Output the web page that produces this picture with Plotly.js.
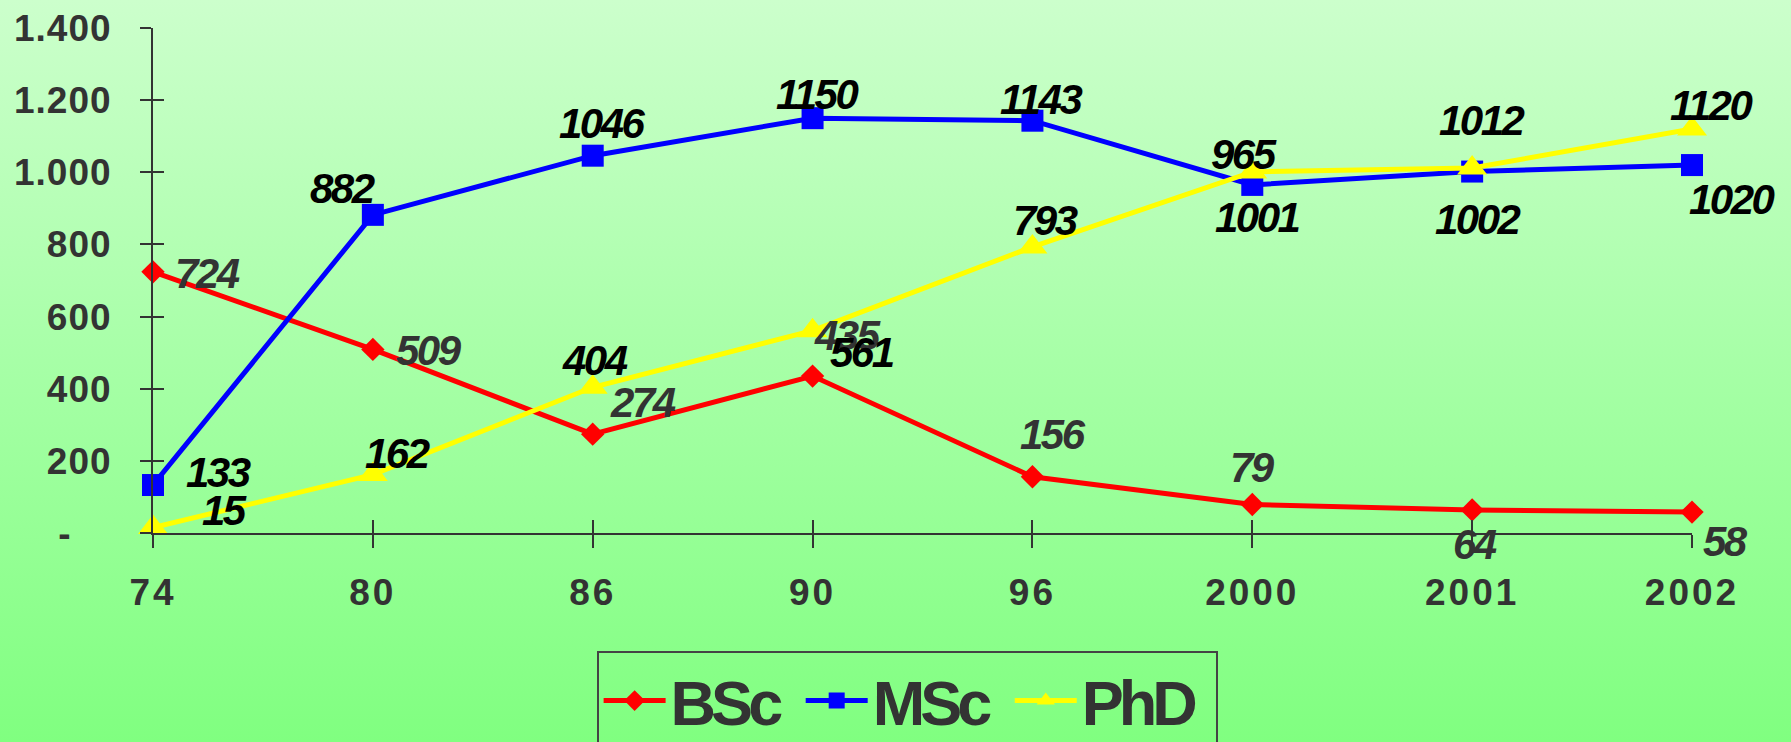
<!DOCTYPE html>
<html>
<head>
<meta charset="utf-8">
<script src="https://cdn.plot.ly/plotly-3.0.1.min.js"></script>
<style>
  html, body { margin: 0; padding: 0; }
  #chart {
    width: 1791px; height: 742px;
    background: linear-gradient(to bottom, #ccffcc 0%, #80ff80 100%);
  }
</style>
</head>
<body>
<div id="chart"></div>
<script>
// ---- data ----
const years = ['74', '80', '86', '90', '96', '2000', '2001', '2002'];
const bsc = [724, 509, 274, 435, 156, 79, 64, 58];
const msc = [133, 882, 1046, 1150, 1143, 965, 1002, 1020];
const phd = [15, 162, 404, 561, 793, 1001, 1012, 1120];
const seriesNames = ['BSc', 'MSc', 'PhD'];
const yTickVals = [0, 200, 400, 600, 800, 1000, 1200, 1400];
const yTickText = ['-', '200', '400', '600', '800', '1.000', '1.200', '1.400'];

// ---- label placement (pixel offsets from each point: [dx, dy], dy downward) ----
const bscOffsets = [[54, 2], [56, 1], [50, -32], [35, -41], [21, -42], [0, -37], [3, 35], [33, 29]];
const mscOffsets = [[65, -13], [-30, -26], [10, -32], [4, -24], [9, -21], [-8, -30], [6, 48], [40, 34]];
const phdOffsets = [[71, -17], [25, -21], [2, -27], [49, 22], [13, -26], [5, 46], [10, -47], [19, -24]];

const sans = '"Liberation Sans", Arial, sans-serif';
const spaced = (t, px) => '<span style="letter-spacing:' + px + 'px">' + t + '</span>';

function series(name, values, color, symbol, size) {
  return {
    type: 'scatter', mode: 'lines+markers',
    name: spaced(name, -5) + '\u00a0',
    x: years, y: values,
    line: { color: color, width: 5 },
    marker: { color: color, symbol: symbol, size: size },
    cliponaxis: false
  };
}

const traces = [
  series(seriesNames[0], bsc, '#ff0000', 'diamond', 18),
  series(seriesNames[1], msc, '#0000ff', 'square', 22),
  series(seriesNames[2], phd, '#ffff00', 'triangle-up', 26),
  { type: 'scatter', mode: 'markers', x: years, y: years.map(() => null),
    xaxis: 'x2', yaxis: 'y2', showlegend: false, hoverinfo: 'skip' }
];

function labels(values, offsets, color) {
  return values.map((v, i) => ({
    x: i, y: v, xref: 'x', yref: 'y',
    text: '<b><i>' + spaced(v, -2.5) + '</i></b>', showarrow: false,
    xanchor: 'center', yanchor: 'middle',
    xshift: offsets[i][0], yshift: -offsets[i][1],
    font: { family: sans, size: 42, color: color }
  }));
}

const annotations = []
  .concat(labels(bsc, bscOffsets, '#333333'))
  .concat(labels(msc, mscOffsets, '#000000'))
  .concat(labels(phd, phdOffsets, '#000000'));

const yTickLabels = yTickText.map((t, i) => i === 0 ? t + '\u00a0\u00a0\u00a0\u00a0' : spaced(t, 1));

const layout = {
  width: 1791, height: 742,
  paper_bgcolor: 'rgba(0,0,0,0)', plot_bgcolor: 'rgba(0,0,0,0)',
  margin: { l: 153, r: 99, t: 28, b: 209, autoexpand: false },
  showlegend: true,
  xaxis: {
    type: 'category', categoryorder: 'array', categoryarray: years,
    tickmode: 'array', tickvals: years, ticktext: years.map(t => spaced(t, 3)),
    range: [0, 7], showline: true, linecolor: '#333333', linewidth: 2,
    ticks: 'outside', ticklen: 13, tickwidth: 2, tickcolor: '#333333',
    showgrid: false, zeroline: false, fixedrange: true,
    tickfont: { family: sans, size: 37, color: '#333333', weight: 'bold' },
    ticklabelstandoff: 13
  },
  yaxis: {
    range: [0, 1400], tickmode: 'array', tickvals: yTickVals, ticktext: yTickLabels,
    showline: true, linecolor: '#333333', linewidth: 2,
    ticks: 'outside', ticklen: 11, tickwidth: 2, tickcolor: '#333333',
    showgrid: false, zeroline: false, fixedrange: true,
    tickfont: { family: sans, size: 37, color: '#333333', weight: 'bold' },
    ticklabelstandoff: 21
  },
  xaxis2: {
    type: 'category', categoryorder: 'array', categoryarray: years,
    overlaying: 'x', anchor: 'y2', range: [0, 7],
    ticks: 'inside', ticklen: 13, tickwidth: 2, tickcolor: '#333333',
    showticklabels: false, showline: false, showgrid: false, zeroline: false
  },
  yaxis2: {
    overlaying: 'y', anchor: 'x2', side: 'left', range: [0, 1400],
    tickmode: 'array', tickvals: yTickVals,
    ticks: 'inside', ticklen: 11, tickwidth: 2, tickcolor: '#333333',
    showticklabels: false, showline: false, showgrid: false, zeroline: false
  },
  legend: {
    orientation: 'h', x: 0.49, xanchor: 'center', y: -0.234, yanchor: 'top',
    bordercolor: '#444444', borderwidth: 2, bgcolor: 'rgba(0,0,0,0)',
    itemwidth: 62,
    font: { family: sans, size: 63, color: '#333333', weight: 'bold' }
  },
  annotations: annotations
};

Plotly.newPlot('chart', traces, layout, { displayModeBar: false, staticPlot: true });
</script>
</body>
</html>
